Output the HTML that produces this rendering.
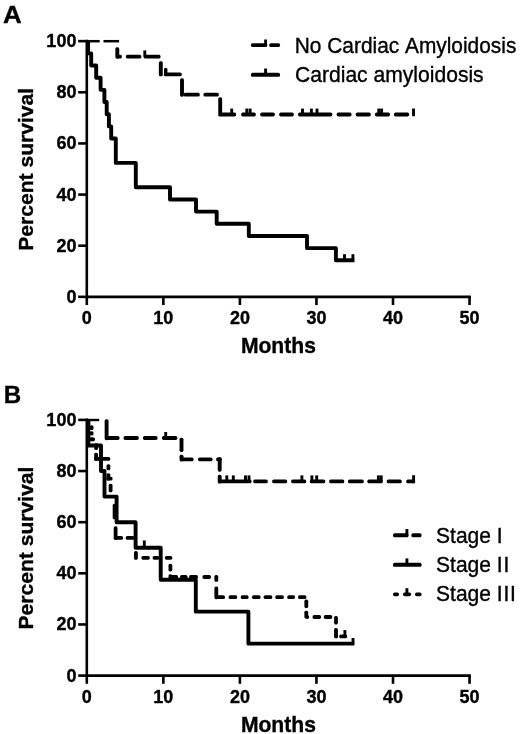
<!DOCTYPE html>
<html lang="en">
<head>
<meta charset="utf-8">
<title>Survival curves</title>
<style>
html,body{margin:0;padding:0;background:#fff;}
body{width:520px;height:734px;overflow:hidden;}
svg{display:block;}
text{font-family:"Liberation Sans",Arial,Helvetica,sans-serif;fill:#000;stroke:#000;stroke-width:0.35px;font-kerning:none;}
.tl{font-size:18.0px;font-weight:bold;}
.at{font-size:21.1px;font-weight:bold;}
.pl{font-size:24.8px;font-weight:bold;}
.lg{font-size:21.0px;font-weight:normal;}
</style>
</head>
<body>
<svg width="520" height="734" viewBox="0 0 520 734">
<rect x="0" y="0" width="520" height="734" fill="#ffffff"/>
<g stroke="#000" fill="none">
<line x1="86.80" y1="39.85" x2="86.80" y2="298.15" stroke-width="2.6" stroke-linecap="butt"/>
<line x1="85.50" y1="296.85" x2="470.85" y2="296.85" stroke-width="2.6" stroke-linecap="butt"/>
<line x1="78.20" y1="296.85" x2="86.80" y2="296.85" stroke-width="2.6" stroke-linecap="butt"/>
<text class="tl" transform="translate(76.40,302.85) scale(1,1.02)" text-anchor="end">0</text>
<line x1="78.20" y1="245.71" x2="86.80" y2="245.71" stroke-width="2.6" stroke-linecap="butt"/>
<text class="tl" transform="translate(76.40,251.71) scale(1,1.02)" text-anchor="end">20</text>
<line x1="78.20" y1="194.57" x2="86.80" y2="194.57" stroke-width="2.6" stroke-linecap="butt"/>
<text class="tl" transform="translate(76.40,200.57) scale(1,1.02)" text-anchor="end">40</text>
<line x1="78.20" y1="143.43" x2="86.80" y2="143.43" stroke-width="2.6" stroke-linecap="butt"/>
<text class="tl" transform="translate(76.40,149.43) scale(1,1.02)" text-anchor="end">60</text>
<line x1="78.20" y1="92.29" x2="86.80" y2="92.29" stroke-width="2.6" stroke-linecap="butt"/>
<text class="tl" transform="translate(76.40,98.29) scale(1,1.02)" text-anchor="end">80</text>
<line x1="78.20" y1="41.15" x2="86.80" y2="41.15" stroke-width="2.6" stroke-linecap="butt"/>
<text class="tl" transform="translate(76.40,47.15) scale(1,1.02)" text-anchor="end">100</text>
<line x1="86.80" y1="296.85" x2="86.80" y2="305.05" stroke-width="2.6" stroke-linecap="butt"/>
<text class="tl" transform="translate(86.80,324.05) scale(1,1.02)" text-anchor="middle">0</text>
<line x1="163.35" y1="296.85" x2="163.35" y2="305.05" stroke-width="2.6" stroke-linecap="butt"/>
<text class="tl" transform="translate(163.35,324.05) scale(1,1.02)" text-anchor="middle">10</text>
<line x1="239.90" y1="296.85" x2="239.90" y2="305.05" stroke-width="2.6" stroke-linecap="butt"/>
<text class="tl" transform="translate(239.90,324.05) scale(1,1.02)" text-anchor="middle">20</text>
<line x1="316.45" y1="296.85" x2="316.45" y2="305.05" stroke-width="2.6" stroke-linecap="butt"/>
<text class="tl" transform="translate(316.45,324.05) scale(1,1.02)" text-anchor="middle">30</text>
<line x1="393.00" y1="296.85" x2="393.00" y2="305.05" stroke-width="2.6" stroke-linecap="butt"/>
<text class="tl" transform="translate(393.00,324.05) scale(1,1.02)" text-anchor="middle">40</text>
<line x1="469.55" y1="296.85" x2="469.55" y2="305.05" stroke-width="2.6" stroke-linecap="butt"/>
<text class="tl" transform="translate(469.55,324.05) scale(1,1.02)" text-anchor="middle">50</text>
<text class="at" transform="translate(278.40,353.15) scale(1,1.02)" text-anchor="middle">Months</text>
<text class="at" transform="translate(33.0,169.35) rotate(-90)" text-anchor="middle">Percent survival</text>
<path d="M88.10,41.15 L88.10,53.33 L91.20,53.33 L91.20,65.50 L96.20,65.50 L96.20,77.68 L100.60,77.68 L100.60,89.85 L104.40,89.85 L104.40,102.03 L106.70,102.03 L106.70,114.21 L108.90,114.21 L108.90,126.38 L111.20,126.38 L111.20,138.56 L115.80,138.56 L115.80,162.91 L135.80,162.91 L135.80,187.26 L170.00,187.26 L170.00,199.44 L196.00,199.44 L196.00,211.62 L216.70,211.62 L216.70,223.79 L248.80,223.79 L248.80,235.97 L307.00,235.97 L307.00,248.15 L335.90,248.15 L335.90,260.32 L354.30,260.32" stroke-width="3.9" stroke-linejoin="round" stroke-linecap="butt"/>
<line x1="344.50" y1="254.20" x2="344.50" y2="260.20" stroke-width="2.9" stroke-linecap="butt"/>
<line x1="352.90" y1="254.20" x2="352.90" y2="261.90" stroke-width="2.9" stroke-linecap="butt"/>
<line x1="87.00" y1="41.20" x2="99.70" y2="41.20" stroke-width="2.5" stroke-linecap="butt"/>
<line x1="103.50" y1="41.20" x2="119.10" y2="41.20" stroke-width="2.5" stroke-linecap="butt"/>
<rect x="115.35" y="47.25" width="3.9" height="11.40" rx="1.6" fill="#000" stroke="none"/>
<rect x="116.95" y="54.65" width="4.90" height="3.9" rx="1.6" fill="#000" stroke="none"/>
<rect x="125.85" y="54.65" width="15.50" height="3.9" rx="1.6" fill="#000" stroke="none"/>
<rect x="143.65" y="54.65" width="16.90" height="3.9" rx="1.6" fill="#000" stroke="none"/>
<line x1="144.80" y1="50.40" x2="144.80" y2="56.60" stroke-width="2.9" stroke-linecap="butt"/>
<rect x="158.85" y="61.15" width="3.9" height="15.20" rx="1.6" fill="#000" stroke="none"/>
<rect x="164.00" y="67.65" width="3.4" height="7.10" rx="1.6" fill="#000" stroke="none"/>
<rect x="163.85" y="72.45" width="17.90" height="3.9" rx="1.6" fill="#000" stroke="none"/>
<rect x="180.05" y="78.15" width="3.9" height="18.50" rx="1.6" fill="#000" stroke="none"/>
<rect x="183.65" y="92.65" width="16.10" height="3.9" rx="1.6" fill="#000" stroke="none"/>
<rect x="203.45" y="92.65" width="15.40" height="3.9" rx="1.6" fill="#000" stroke="none"/>
<rect x="218.25" y="97.15" width="3.9" height="19.40" rx="1.6" fill="#000" stroke="none"/>
<rect x="219.85" y="112.55" width="16.30" height="3.9" rx="1.6" fill="#000" stroke="none"/>
<rect x="241.15" y="112.55" width="14.70" height="3.9" rx="1.6" fill="#000" stroke="none"/>
<rect x="260.15" y="112.55" width="14.70" height="3.9" rx="1.6" fill="#000" stroke="none"/>
<rect x="279.15" y="112.55" width="14.70" height="3.9" rx="1.6" fill="#000" stroke="none"/>
<rect x="298.05" y="112.55" width="34.30" height="3.9" rx="1.6" fill="#000" stroke="none"/>
<rect x="336.65" y="112.55" width="14.90" height="3.9" rx="1.6" fill="#000" stroke="none"/>
<rect x="355.75" y="112.55" width="15.00" height="3.9" rx="1.6" fill="#000" stroke="none"/>
<rect x="374.95" y="112.55" width="15.00" height="3.9" rx="1.6" fill="#000" stroke="none"/>
<rect x="393.95" y="112.55" width="15.20" height="3.9" rx="1.6" fill="#000" stroke="none"/>
<line x1="231.70" y1="108.60" x2="231.70" y2="114.50" stroke-width="2.9" stroke-linecap="butt"/>
<line x1="246.80" y1="108.60" x2="246.80" y2="114.50" stroke-width="2.9" stroke-linecap="butt"/>
<line x1="250.10" y1="108.60" x2="250.10" y2="114.50" stroke-width="2.9" stroke-linecap="butt"/>
<line x1="302.50" y1="108.60" x2="302.50" y2="114.50" stroke-width="2.9" stroke-linecap="butt"/>
<line x1="311.40" y1="108.60" x2="311.40" y2="114.50" stroke-width="2.9" stroke-linecap="butt"/>
<line x1="317.00" y1="108.60" x2="317.00" y2="114.50" stroke-width="2.9" stroke-linecap="butt"/>
<line x1="378.80" y1="108.60" x2="378.80" y2="114.50" stroke-width="2.9" stroke-linecap="butt"/>
<line x1="381.60" y1="108.60" x2="381.60" y2="114.50" stroke-width="2.9" stroke-linecap="butt"/>
<line x1="413.50" y1="108.50" x2="413.50" y2="116.20" stroke-width="2.9" stroke-linecap="butt"/>
<rect x="250.95" y="43.15" width="16.30" height="3.9" rx="1.6" fill="#000" stroke="none"/>
<rect x="269.25" y="43.15" width="10.80" height="3.9" rx="1.6" fill="#000" stroke="none"/>
<line x1="265.60" y1="39.50" x2="265.60" y2="45.10" stroke-width="2.9" stroke-linecap="butt"/>
<rect x="250.95" y="72.85" width="29.10" height="3.9" rx="1.6" fill="#000" stroke="none"/>
<line x1="265.60" y1="68.50" x2="265.60" y2="74.80" stroke-width="2.9" stroke-linecap="butt"/>
<line x1="86.80" y1="418.60" x2="86.80" y2="676.90" stroke-width="2.6" stroke-linecap="butt"/>
<line x1="85.50" y1="675.60" x2="470.85" y2="675.60" stroke-width="2.6" stroke-linecap="butt"/>
<line x1="78.20" y1="675.60" x2="86.80" y2="675.60" stroke-width="2.6" stroke-linecap="butt"/>
<text class="tl" transform="translate(76.40,681.60) scale(1,1.02)" text-anchor="end">0</text>
<line x1="78.20" y1="624.46" x2="86.80" y2="624.46" stroke-width="2.6" stroke-linecap="butt"/>
<text class="tl" transform="translate(76.40,630.46) scale(1,1.02)" text-anchor="end">20</text>
<line x1="78.20" y1="573.32" x2="86.80" y2="573.32" stroke-width="2.6" stroke-linecap="butt"/>
<text class="tl" transform="translate(76.40,579.32) scale(1,1.02)" text-anchor="end">40</text>
<line x1="78.20" y1="522.18" x2="86.80" y2="522.18" stroke-width="2.6" stroke-linecap="butt"/>
<text class="tl" transform="translate(76.40,528.18) scale(1,1.02)" text-anchor="end">60</text>
<line x1="78.20" y1="471.04" x2="86.80" y2="471.04" stroke-width="2.6" stroke-linecap="butt"/>
<text class="tl" transform="translate(76.40,477.04) scale(1,1.02)" text-anchor="end">80</text>
<line x1="78.20" y1="419.90" x2="86.80" y2="419.90" stroke-width="2.6" stroke-linecap="butt"/>
<text class="tl" transform="translate(76.40,425.90) scale(1,1.02)" text-anchor="end">100</text>
<line x1="86.80" y1="675.60" x2="86.80" y2="683.80" stroke-width="2.6" stroke-linecap="butt"/>
<text class="tl" transform="translate(86.80,702.80) scale(1,1.02)" text-anchor="middle">0</text>
<line x1="163.35" y1="675.60" x2="163.35" y2="683.80" stroke-width="2.6" stroke-linecap="butt"/>
<text class="tl" transform="translate(163.35,702.80) scale(1,1.02)" text-anchor="middle">10</text>
<line x1="239.90" y1="675.60" x2="239.90" y2="683.80" stroke-width="2.6" stroke-linecap="butt"/>
<text class="tl" transform="translate(239.90,702.80) scale(1,1.02)" text-anchor="middle">20</text>
<line x1="316.45" y1="675.60" x2="316.45" y2="683.80" stroke-width="2.6" stroke-linecap="butt"/>
<text class="tl" transform="translate(316.45,702.80) scale(1,1.02)" text-anchor="middle">30</text>
<line x1="393.00" y1="675.60" x2="393.00" y2="683.80" stroke-width="2.6" stroke-linecap="butt"/>
<text class="tl" transform="translate(393.00,702.80) scale(1,1.02)" text-anchor="middle">40</text>
<line x1="469.55" y1="675.60" x2="469.55" y2="683.80" stroke-width="2.6" stroke-linecap="butt"/>
<text class="tl" transform="translate(469.55,702.80) scale(1,1.02)" text-anchor="middle">50</text>
<text class="at" transform="translate(278.40,731.90) scale(1,1.02)" text-anchor="middle">Months</text>
<text class="at" transform="translate(33.0,548.10) rotate(-90)" text-anchor="middle">Percent survival</text>
<path d="M88.40,419.90 L88.40,445.47 L101.00,445.47 L101.00,471.04 L104.50,471.04 L104.50,496.61 L116.60,496.61 L116.60,522.18 L135.60,522.18 L135.60,547.75 L160.70,547.75 L160.70,579.71 L195.80,579.71 L195.80,611.67 L248.40,611.67 L248.40,643.64 L354.20,643.64" stroke-width="3.9" stroke-linejoin="round" stroke-linecap="butt"/>
<line x1="144.30" y1="540.50" x2="144.30" y2="547.10" stroke-width="2.9" stroke-linecap="butt"/>
<line x1="353.00" y1="638.00" x2="353.00" y2="644.70" stroke-width="2.9" stroke-linecap="butt"/>
<rect x="89.70" y="425.15" width="3.8" height="4.90" rx="1.6" fill="#000" stroke="none"/>
<rect x="89.70" y="431.25" width="3.8" height="4.30" rx="1.6" fill="#000" stroke="none"/>
<rect x="89.70" y="437.15" width="3.8" height="4.10" rx="1.6" fill="#000" stroke="none"/>
<rect x="94.20" y="443.15" width="3.8" height="6.90" rx="1.6" fill="#000" stroke="none"/>
<rect x="94.20" y="452.65" width="3.8" height="8.20" rx="1.6" fill="#000" stroke="none"/>
<rect x="106.50" y="464.15" width="3.8" height="6.20" rx="1.6" fill="#000" stroke="none"/>
<rect x="106.50" y="473.15" width="3.8" height="7.40" rx="1.6" fill="#000" stroke="none"/>
<rect x="108.70" y="483.65" width="3.8" height="8.70" rx="1.6" fill="#000" stroke="none"/>
<rect x="112.70" y="503.65" width="3.8" height="15.70" rx="1.6" fill="#000" stroke="none"/>
<rect x="113.70" y="526.35" width="3.8" height="13.60" rx="1.6" fill="#000" stroke="none"/>
<rect x="134.00" y="550.95" width="3.8" height="8.90" rx="1.6" fill="#000" stroke="none"/>
<rect x="168.50" y="563.85" width="3.8" height="7.60" rx="1.6" fill="#000" stroke="none"/>
<rect x="168.50" y="574.25" width="3.8" height="4.70" rx="1.6" fill="#000" stroke="none"/>
<rect x="214.40" y="574.95" width="3.8" height="6.80" rx="1.6" fill="#000" stroke="none"/>
<rect x="214.40" y="586.45" width="3.8" height="12.70" rx="1.6" fill="#000" stroke="none"/>
<rect x="304.40" y="599.55" width="3.8" height="8.50" rx="1.6" fill="#000" stroke="none"/>
<rect x="304.40" y="610.75" width="3.8" height="7.80" rx="1.6" fill="#000" stroke="none"/>
<rect x="334.10" y="616.05" width="3.8" height="8.50" rx="1.6" fill="#000" stroke="none"/>
<rect x="334.10" y="628.05" width="3.8" height="10.30" rx="1.6" fill="#000" stroke="none"/>
<rect x="89.65" y="437.40" width="5.40" height="3.8" rx="1.6" fill="#000" stroke="none"/>
<rect x="94.15" y="457.00" width="16.10" height="3.8" rx="1.6" fill="#000" stroke="none"/>
<rect x="106.45" y="476.70" width="6.10" height="3.8" rx="1.6" fill="#000" stroke="none"/>
<rect x="115.25" y="536.00" width="7.80" height="3.8" rx="1.6" fill="#000" stroke="none"/>
<rect x="125.75" y="536.00" width="8.60" height="3.8" rx="1.6" fill="#000" stroke="none"/>
<rect x="141.35" y="555.90" width="8.50" height="3.8" rx="1.6" fill="#000" stroke="none"/>
<rect x="152.55" y="555.90" width="6.80" height="3.8" rx="1.6" fill="#000" stroke="none"/>
<rect x="164.85" y="555.90" width="7.50" height="3.8" rx="1.6" fill="#000" stroke="none"/>
<rect x="170.05" y="575.10" width="8.00" height="3.8" rx="1.6" fill="#000" stroke="none"/>
<rect x="179.95" y="575.10" width="7.60" height="3.8" rx="1.6" fill="#000" stroke="none"/>
<rect x="189.05" y="575.10" width="8.90" height="3.8" rx="1.6" fill="#000" stroke="none"/>
<rect x="202.45" y="575.10" width="8.50" height="3.8" rx="1.6" fill="#000" stroke="none"/>
<rect x="215.95" y="595.20" width="9.00" height="3.8" rx="1.6" fill="#000" stroke="none"/>
<rect x="228.65" y="595.20" width="8.50" height="3.8" rx="1.6" fill="#000" stroke="none"/>
<rect x="240.75" y="595.20" width="7.80" height="3.8" rx="1.6" fill="#000" stroke="none"/>
<rect x="252.05" y="595.20" width="8.50" height="3.8" rx="1.6" fill="#000" stroke="none"/>
<rect x="263.65" y="595.20" width="8.60" height="3.8" rx="1.6" fill="#000" stroke="none"/>
<rect x="275.35" y="595.20" width="8.50" height="3.8" rx="1.6" fill="#000" stroke="none"/>
<rect x="287.25" y="595.20" width="7.70" height="3.8" rx="1.6" fill="#000" stroke="none"/>
<rect x="298.05" y="595.20" width="8.30" height="3.8" rx="1.6" fill="#000" stroke="none"/>
<rect x="305.95" y="615.10" width="3.00" height="3.8" rx="1.6" fill="#000" stroke="none"/>
<rect x="312.55" y="615.10" width="8.50" height="3.8" rx="1.6" fill="#000" stroke="none"/>
<rect x="323.75" y="615.10" width="8.50" height="3.8" rx="1.6" fill="#000" stroke="none"/>
<rect x="335.65" y="634.50" width="2.00" height="3.8" rx="1.6" fill="#000" stroke="none"/>
<rect x="339.25" y="634.50" width="7.90" height="3.8" rx="1.6" fill="#000" stroke="none"/>
<line x1="344.90" y1="630.10" x2="344.90" y2="636.40" stroke-width="2.9" stroke-linecap="butt"/>
<line x1="87.00" y1="420.00" x2="99.20" y2="420.00" stroke-width="2.4" stroke-linecap="butt"/>
<rect x="104.65" y="419.25" width="3.9" height="20.90" rx="1.6" fill="#000" stroke="none"/>
<rect x="106.25" y="436.05" width="13.30" height="3.9" rx="1.6" fill="#000" stroke="none"/>
<rect x="123.55" y="436.05" width="15.20" height="3.9" rx="1.6" fill="#000" stroke="none"/>
<rect x="142.95" y="436.05" width="14.60" height="3.9" rx="1.6" fill="#000" stroke="none"/>
<rect x="161.95" y="436.05" width="15.40" height="3.9" rx="1.6" fill="#000" stroke="none"/>
<line x1="165.70" y1="432.00" x2="165.70" y2="438.00" stroke-width="2.9" stroke-linecap="butt"/>
<rect x="179.55" y="437.65" width="3.9" height="14.30" rx="1.6" fill="#000" stroke="none"/>
<rect x="179.55" y="454.65" width="3.9" height="6.80" rx="1.6" fill="#000" stroke="none"/>
<rect x="181.15" y="457.45" width="12.40" height="3.9" rx="1.6" fill="#000" stroke="none"/>
<rect x="198.05" y="457.45" width="14.50" height="3.9" rx="1.6" fill="#000" stroke="none"/>
<rect x="216.15" y="457.45" width="5.60" height="3.9" rx="1.6" fill="#000" stroke="none"/>
<rect x="217.75" y="457.35" width="3.9" height="14.30" rx="1.6" fill="#000" stroke="none"/>
<rect x="217.75" y="474.85" width="3.9" height="8.70" rx="1.6" fill="#000" stroke="none"/>
<rect x="219.35" y="479.45" width="32.20" height="3.9" rx="1.6" fill="#000" stroke="none"/>
<rect x="253.25" y="479.45" width="14.50" height="3.9" rx="1.6" fill="#000" stroke="none"/>
<rect x="272.15" y="479.45" width="15.00" height="3.9" rx="1.6" fill="#000" stroke="none"/>
<rect x="291.15" y="479.45" width="15.00" height="3.9" rx="1.6" fill="#000" stroke="none"/>
<rect x="309.85" y="479.45" width="15.40" height="3.9" rx="1.6" fill="#000" stroke="none"/>
<rect x="329.15" y="479.45" width="15.10" height="3.9" rx="1.6" fill="#000" stroke="none"/>
<rect x="347.95" y="479.45" width="15.80" height="3.9" rx="1.6" fill="#000" stroke="none"/>
<rect x="367.35" y="479.45" width="15.40" height="3.9" rx="1.6" fill="#000" stroke="none"/>
<rect x="386.75" y="479.45" width="15.00" height="3.9" rx="1.6" fill="#000" stroke="none"/>
<rect x="406.25" y="479.45" width="8.90" height="3.9" rx="1.6" fill="#000" stroke="none"/>
<line x1="226.80" y1="475.40" x2="226.80" y2="481.40" stroke-width="2.9" stroke-linecap="butt"/>
<line x1="233.30" y1="475.40" x2="233.30" y2="481.40" stroke-width="2.9" stroke-linecap="butt"/>
<line x1="245.50" y1="475.40" x2="245.50" y2="481.40" stroke-width="2.9" stroke-linecap="butt"/>
<line x1="249.00" y1="475.40" x2="249.00" y2="481.40" stroke-width="2.9" stroke-linecap="butt"/>
<line x1="301.90" y1="475.40" x2="301.90" y2="481.40" stroke-width="2.9" stroke-linecap="butt"/>
<line x1="311.90" y1="475.40" x2="311.90" y2="481.40" stroke-width="2.9" stroke-linecap="butt"/>
<line x1="316.70" y1="475.40" x2="316.70" y2="481.40" stroke-width="2.9" stroke-linecap="butt"/>
<line x1="378.40" y1="475.40" x2="378.40" y2="481.40" stroke-width="2.9" stroke-linecap="butt"/>
<line x1="381.20" y1="475.40" x2="381.20" y2="481.40" stroke-width="2.9" stroke-linecap="butt"/>
<line x1="413.60" y1="475.20" x2="413.60" y2="483.20" stroke-width="2.9" stroke-linecap="butt"/>
<rect x="393.05" y="533.35" width="15.50" height="3.9" rx="1.6" fill="#000" stroke="none"/>
<rect x="411.35" y="533.35" width="10.20" height="3.9" rx="1.6" fill="#000" stroke="none"/>
<line x1="406.90" y1="529.00" x2="406.90" y2="535.30" stroke-width="2.9" stroke-linecap="butt"/>
<rect x="393.05" y="562.85" width="28.50" height="3.9" rx="1.6" fill="#000" stroke="none"/>
<line x1="406.90" y1="558.40" x2="406.90" y2="564.80" stroke-width="2.9" stroke-linecap="butt"/>
<rect x="393.05" y="592.40" width="5.90" height="3.8" rx="1.6" fill="#000" stroke="none"/>
<rect x="403.05" y="592.40" width="8.00" height="3.8" rx="1.6" fill="#000" stroke="none"/>
<rect x="415.05" y="592.40" width="6.50" height="3.8" rx="1.6" fill="#000" stroke="none"/>
<line x1="406.90" y1="588.20" x2="406.90" y2="594.30" stroke-width="2.9" stroke-linecap="butt"/>
</g>
<text class="pl" transform="translate(3.1,22.8) scale(1.045,1)">A</text>
<text class="pl" transform="translate(3.7,402.5) scale(0.975,1)">B</text>
<text class="lg" transform="translate(294.80,52.80) scale(1,1.02)" style="font-size:20.88px">No Cardiac Amyloidosis</text>
<text class="lg" transform="translate(295.00,82.20) scale(1,1.02)" style="font-size:21.1px">Cardiac amyloidosis</text>
<text class="lg" transform="translate(436.10,542.60) scale(1,1.02)">Stage I</text>
<text class="lg" transform="translate(436.10,571.90) scale(1,1.02)">Stage I<tspan dx="0.8">I</tspan></text>
<text class="lg" transform="translate(436.10,601.30) scale(1,1.02)">Stage I<tspan dx="0.8">I</tspan><tspan dx="0.8">I</tspan></text>
</svg>
</body>
</html>
